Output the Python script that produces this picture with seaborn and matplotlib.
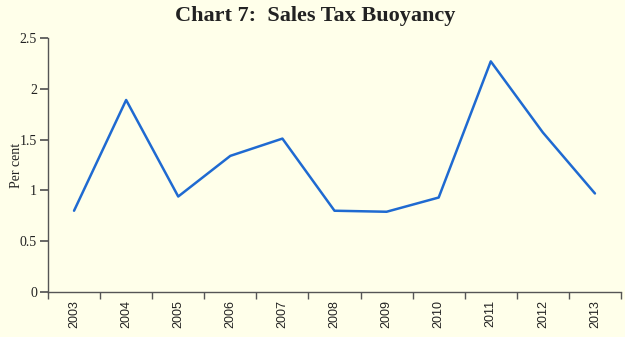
import matplotlib
matplotlib.use("Agg")
import matplotlib.pyplot as plt
import seaborn as sns
import pandas as pd
import numpy as np

years = ["2003", "2004", "2005", "2006", "2007", "2008", "2009", "2010", "2011", "2012", "2013"]
buoyancy = [0.80, 1.89, 0.94, 1.34, 1.51, 0.80, 0.79, 0.93, 2.27, 1.57, 0.97]

sns.set_theme(style="white")
bg = "#FFFFEA"
plt.rcParams["font.family"] = ["Liberation Serif", "DejaVu Serif"]

fig = plt.figure(figsize=(6.25, 3.37), dpi=100, facecolor=bg)
ax = fig.add_axes([0.0768, 0.1335, 0.9168, 0.7537])
ax.set_facecolor(bg)

df = pd.DataFrame({"year": years, "val": buoyancy})
df["x"] = np.arange(len(years))
sns.lineplot(data=df, x="x", y="val", ax=ax, color="#1f6ad1", linewidth=1.8)

ax.set_xlim(-0.5, len(years) - 0.5)
ax.set_ylim(0, 2.5)
ax.set_yticks([0, 0.5, 1, 1.5, 2, 2.5])
ax.set_yticklabels(["0", "0.5", "1", "1.5", "2", "2.5"], fontsize=10, color="#222222")
ax.set_xticks(np.arange(len(years)))
ax.set_xticklabels(years, rotation=90, fontsize=9, family="Liberation Sans", color="#222222")
ax.set_xticks(np.arange(len(years) + 1) - 0.5, minor=True)
ax.tick_params(axis="x", which="major", length=0, pad=6)
ax.tick_params(axis="x", which="minor", length=5, direction="out", color="#555555", bottom=True)
ax.tick_params(axis="y", length=6, direction="out", color="#555555", left=True, pad=2)
ax.set_xlabel("")
ax.set_ylabel("Per cent", fontsize=10, color="#222222")
ax.yaxis.set_label_coords(-0.043, 0.5)

for s in ["top", "right"]:
    ax.spines[s].set_visible(False)
for s in ["left", "bottom"]:
    ax.spines[s].set_color("#555555")
    ax.spines[s].set_linewidth(1.0)

fig.text(0.504, 0.953, "Chart 7:  Sales Tax Buoyancy", ha="center", va="center",
         fontsize=16, fontweight="bold", color="#222222")

fig.savefig("out.png", dpi=100, facecolor=bg)
